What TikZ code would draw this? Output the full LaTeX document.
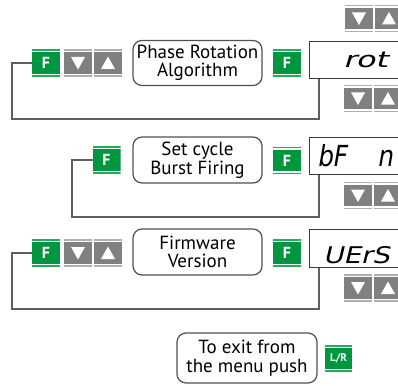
\documentclass[tikz,border=0pt]{standalone}
\usepackage{fontspec}
\usepackage{graphicx}
\setmainfont{PT Sans}
\newfontfamily\segfont{DejaVu Sans}[FakeSlant=0.2]
\definecolor{btngreen}{RGB}{0,150,64}
\definecolor{btngreenl}{RGB}{40,170,90}
\definecolor{btngrey}{RGB}{128,128,128}
\definecolor{btngreyl}{RGB}{175,175,175}
\definecolor{linegrey}{RGB}{95,95,95}
\definecolor{boxgrey}{RGB}{80,80,80}
\definecolor{dispgrey}{RGB}{60,60,60}
\newcommand\btnbg[2]{%
  \fill[#1] ([yshift=-3.2pt]path picture bounding box.north west) rectangle ([yshift=3.2pt]path picture bounding box.south east);
  \fill[#2] ([yshift=-0.1pt]path picture bounding box.north west) rectangle ([yshift=-1.7pt]path picture bounding box.north east);
  \fill[#2] ([yshift=0.1pt]path picture bounding box.south west) rectangle ([yshift=1.7pt]path picture bounding box.south east);}
\tikzset{
  btnshape/.style={minimum width=28pt, minimum height=28pt, inner sep=0pt, outer sep=0pt, text=white},
  fbtn/.style={btnshape, font=\bfseries\fontsize{16}{16}\selectfont,
    path picture={\btnbg{btngreen}{btngreenl}}},
  lrbtn/.style={btnshape, minimum width=27pt, minimum height=27pt, font=\bfseries\fontsize{11}{11}\selectfont,
    path picture={\btnbg{btngreen}{btngreenl}}},
  dnbtn/.style={btnshape, path picture={\btnbg{btngrey}{btngreyl}
    \fill[white] ([shift={(-7pt,6pt)}]path picture bounding box.center) -- ([shift={(7pt,6pt)}]path picture bounding box.center) -- ([shift={(0pt,-6.5pt)}]path picture bounding box.center) -- cycle;}},
  upbtn/.style={btnshape, path picture={\btnbg{btngrey}{btngreyl}
    \fill[white] ([shift={(-7pt,-6pt)}]path picture bounding box.center) -- ([shift={(7pt,-6pt)}]path picture bounding box.center) -- ([shift={(0pt,6.5pt)}]path picture bounding box.center) -- cycle;}},
  rbox/.style={draw=boxgrey, line width=1.2pt, rounded corners=9pt, align=center, inner sep=0pt,
    font=\fontsize{19}{18.5}\selectfont, text=black},
  disp/.style={draw=dispgrey, line width=1.3pt, minimum width=100pt, inner sep=0pt, anchor=north west},
  seg/.style={anchor=base west, inner sep=0pt, text=black},
  loopline/.style={draw=linegrey, line width=1.5pt}
}
\begin{document}
\begin{tikzpicture}[x=1pt, y=-1pt]
\clip (0,0) rectangle (398,385);
\useasboundingbox (0,0) rectangle (398,385);
% Row 1
\node[fbtn] (f1l) at (46,63) {F};
\node[dnbtn] (d1l) at (78,63) {};
\node[upbtn] (u1l) at (108,63) {};
\node[rbox, minimum width=129pt, minimum height=45pt] (b1) at (197.5,63) {Phase Rotation\\Algorithm};
\node[fbtn] (f1m) at (287,63) {F};
\node[disp, minimum height=37pt] (s1) at (309,41) {};
\node[seg, font=\segfont\fontsize{22}{22}\selectfont] (t1) at (343,68) {\scalebox{1.45}[1]{rot}};
\node[dnbtn] (d1t) at (359,18.5) {};
\node[upbtn] (u1t) at (389,18.5) {};
\node[dnbtn] (d1b) at (358,98.5) {};
\node[upbtn] (u1b) at (388,98.5) {};
\draw[loopline] (f1l.west) -| (12,119) -| ([xshift=10pt]s1.south west);
% Row 2
\node[fbtn] (f2l) at (106.5,160) {F};
\node[rbox, minimum width=129pt, minimum height=46pt] (b2) at (197.5,160) {Set cycle\\Burst Firing};
\node[fbtn] (f2m) at (287,160.5) {F};
\node[disp, minimum height=37pt] (s2) at (309,137) {};
\node[seg, font=\segfont\fontsize{29}{29}\selectfont] (t2) at (317,166) {\scalebox{0.85}[1]{bF\hspace*{36pt}n}};
\node[dnbtn] (d2b) at (358,195.5) {};
\node[upbtn] (u2b) at (388,195.5) {};
\draw[loopline] (f2l.west) -| (72,217) -| ([xshift=10pt]s2.south west);
% Row 3
\node[fbtn] (f3l) at (46,253) {F};
\node[dnbtn] (d3l) at (78,253) {};
\node[upbtn] (u3l) at (108,253) {};
\node[rbox, minimum width=129pt, minimum height=46pt] (b3) at (197.5,252) {Firmware\\Version};
\node[fbtn] (f3m) at (287,253) {F};
\node[disp, minimum height=38pt] (s3) at (309,229) {};
\node[seg, font=\segfont\fontsize{23}{23}\selectfont] (t3) at (323,263) {\scalebox{1.2}[1]{UErS}};
\node[dnbtn] (d3b) at (358,288) {};
\node[upbtn] (u3b) at (388,288) {};
\draw[loopline] (f3l.west) -| (12,309) -| ([xshift=10pt]s3.south west);
% Exit
\node[rbox, minimum width=140pt, minimum height=50pt] (ex) at (247,358) {To exit from\\the menu push};
\node[lrbtn] (lr) at (338.5,358.5) {L/R};
\end{tikzpicture}
\end{document}
